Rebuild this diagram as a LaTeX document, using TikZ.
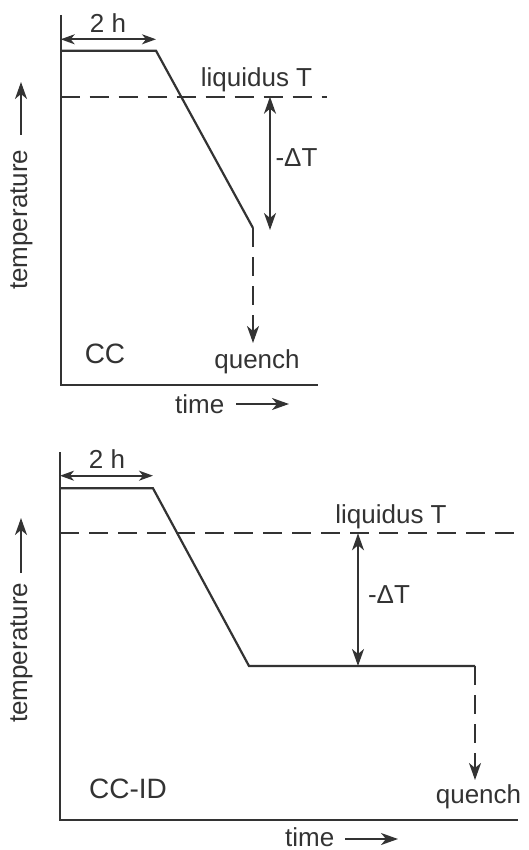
\documentclass[tikz,border=0pt]{standalone}
\usepackage{fontspec}
\setmainfont{Liberation Sans}
\usetikzlibrary{arrows.meta}
\definecolor{ink}{HTML}{333333}
\begin{document}
\begin{tikzpicture}[x=1pt,y=-1pt,
  axis/.style={draw=ink,line width=2.2pt},
  curve/.style={draw=ink,line width=2.2pt,line join=miter},
  dashline/.style={draw=ink,line width=2pt,dash pattern=on 19pt off 10pt},
  dimarrow/.style={draw=ink,line width=1.7pt,{Stealth[length=17pt,width=12pt,inset=5pt]}-{Stealth[length=17pt,width=12pt,inset=5pt]}},
  hourarrow/.style={draw=ink,line width=1.7pt,{Stealth[length=14pt,width=10pt,inset=4pt]}-{Stealth[length=14pt,width=10pt,inset=4pt]}},
  downarrow/.style={-{Stealth[length=17pt,width=12pt,inset=5pt]}},
  axlabarrow/.style={draw=ink,line width=1.7pt,-{Stealth[length=17pt,width=12pt,inset=5pt]}},
  lab/.style={text=ink,inner sep=0pt,font=\fontsize{26}{30}\selectfont},
  biglab/.style={text=ink,inner sep=0pt,font=\fontsize{28}{32}\selectfont}]
\useasboundingbox (0,0) rectangle (529,850);

% ---------- upper panel: continuous cooling (CC) ----------
\coordinate (A1top) at (60.7,15);
\coordinate (A1o) at (60.7,385);
\coordinate (A1x) at (318,385);
\draw[axis] (A1top) -- (A1o) -- (A1x);

\coordinate (P1a) at (60.7,50.7);
\coordinate (P1b) at (156,50.7);
\coordinate (P1c) at (253,228);
\coordinate (Q1) at (253,343);
\draw[curve] (P1a) -- (P1b) -- (P1c);
\draw[dashline,downarrow] (P1c) -- (Q1);

\coordinate (L1a) at (60.7,96.7);
\coordinate (L1b) at (327,96.7);
\draw[dashline] (L1a) -- (L1b);

\coordinate (D1a) at (270,96.7);
\coordinate (D1b) at (270,230);
\draw[dimarrow] (D1a) -- (D1b);

\coordinate (H1a) at (60.7,39.3);
\coordinate (H1b) at (156,39.3);
\draw[hourarrow] (H1a) -- (H1b);

\node[lab,anchor=base] (h1) at (108,33) {2 h};
\node[lab,anchor=base] (liq1) at (256.5,87) {liquidus T};
\node[lab,anchor=base] (dt1) at (296.5,167) {-ΔT};
\node[biglab,anchor=base] (cc1) at (105,363) {CC};
\node[lab,anchor=base] (qu1) at (257,368) {quench};
\node[lab,anchor=base west] (time1) at (175,413) {time};
\coordinate (T1a) at (236,404);
\coordinate (T1b) at (289,404);
\draw[axlabarrow] (T1a) -- (T1b);
\node[lab,anchor=west,rotate=90] (temp1) at (21.5,290) {temperature};
\coordinate (Y1a) at (21,135);
\coordinate (Y1b) at (21,82);
\draw[axlabarrow] (Y1a) -- (Y1b);

% ---------- lower panel: continuous cooling with isothermal dwell (CC-ID) ----------
\coordinate (A2top) at (60,452);
\coordinate (A2o) at (60,820);
\coordinate (A2x) at (518,820);
\draw[axis] (A2top) -- (A2o) -- (A2x);

\coordinate (P2a) at (60,488.3);
\coordinate (P2b) at (153,488.3);
\coordinate (P2c) at (249,666);
\coordinate (P2d) at (475,666);
\coordinate (Q2) at (475,780);
\draw[curve] (P2a) -- (P2b) -- (P2c) -- (P2d);
\draw[dashline,downarrow] (P2d) -- (Q2);

\coordinate (L2a) at (60,533.3);
\coordinate (L2b) at (522,533.3);
\draw[dashline] (L2a) -- (L2b);

\coordinate (D2a) at (358,533.3);
\coordinate (D2b) at (358,666);
\draw[dimarrow] (D2a) -- (D2b);

\coordinate (H2a) at (60,475.7);
\coordinate (H2b) at (153,475.7);
\draw[hourarrow] (H2a) -- (H2b);

\node[lab,anchor=base] (h2) at (107,468) {2 h};
\node[lab,anchor=base] (liq2) at (391,523) {liquidus T};
\node[lab,anchor=base] (dt2) at (389,603) {-ΔT};
\node[biglab,anchor=base] (cc2) at (128,798) {CC-ID};
\node[lab,anchor=base] (qu2) at (478.5,803) {quench};
\node[lab,anchor=base west] (time2) at (285,846) {time};
\coordinate (T2a) at (345,839);
\coordinate (T2b) at (398,839);
\draw[axlabarrow] (T2a) -- (T2b);
\node[lab,anchor=west,rotate=90] (temp2) at (21.5,723) {temperature};
\coordinate (Y2a) at (21,573);
\coordinate (Y2b) at (21,518);
\draw[axlabarrow] (Y2a) -- (Y2b);
\end{tikzpicture}
\end{document}
